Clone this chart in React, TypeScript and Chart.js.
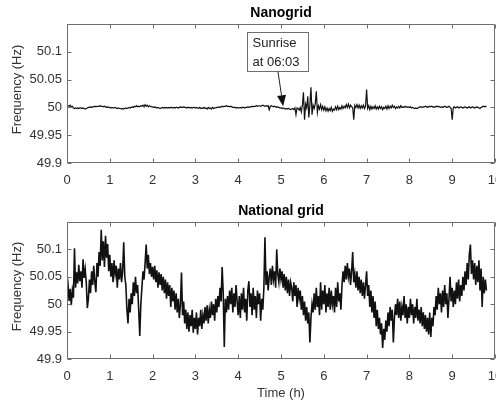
import React, { useEffect, useRef } from "react";
import { Chart, registerables } from "chart.js";

Chart.register(...registerables);

// ---------- data ----------
const TIME_STEP_H = 0.025; // sampling interval of both recordings (hours)

const xTickValues = [0, 1, 2, 3, 4, 5, 6, 7, 8, 9, 10];
const yTickValues = [49.9, 49.95, 50, 50.05, 50.1];
const yTickLabels = ["49.9", "49.95", "50", "50.05", "50.1"];

const panelTitles = ["Nanogrid", "National grid"];
const yAxisTitle = "Frequency (Hz)";
const xAxisTitle = "Time (h)";

const sunriseText = ["Sunrise", "at 06:03"];
const sunriseArrowTip = { x: 5.05, y: 50.002 };
const sunriseArrowTail = { x: 4.93, y: 50.064 };
const sunriseBox = { x0: 4.2, x1: 5.63, y0: 50.065, y1: 50.135 };

const nanogridFreq = [
  50.001, 50.003, 50.002, 50.004, 50.001, 50.002, 49.999, 49.998, 49.999, 49.998,
  49.999, 49.998, 49.999, 49.999, 49.998, 49.999, 49.998, 49.997, 49.998, 49.999,
  50.000, 50.000, 50.001, 50.000, 50.001, 50.001, 50.002, 50.001, 50.002, 50.002,
  50.002, 50.003, 50.002, 50.002, 50.001, 50.002, 50.001, 50.000, 50.001, 50.000,
  50.000, 49.999, 50.000, 49.999, 49.999, 50.000, 49.999, 49.998, 49.999, 49.998,
  49.998, 49.997, 49.998, 49.997, 49.998, 49.999, 49.998, 49.999, 50.000, 49.999,
  50.000, 50.001, 50.000, 50.002, 50.001, 50.003, 50.001, 50.002, 50.001, 50.003,
  50.002, 50.004, 50.001, 50.005, 50.002, 50.004, 50.001, 50.003, 50.002, 50.001,
  50.001, 50.000, 50.001, 50.000, 49.999, 50.000, 49.999, 49.998, 49.999, 50.000,
  49.999, 50.000, 49.999, 50.000, 49.999, 50.000, 49.999, 50.000, 50.000, 49.999,
  50.000, 49.999, 50.000, 50.000, 49.999, 50.000, 50.001, 50.000, 50.000, 50.001,
  50.000, 50.000, 49.999, 50.000, 50.000, 49.999, 50.000, 49.999, 50.000, 50.000,
  49.999, 50.000, 49.999, 49.998, 50.000, 49.998, 49.999, 49.998, 50.000, 49.998,
  49.999, 49.997, 50.000, 49.998, 49.999, 49.997, 50.000, 49.998, 49.999, 49.999,
  50.000, 50.000, 50.001, 50.000, 50.001, 50.002, 50.001, 50.002, 50.002, 50.003,
  50.002, 50.002, 50.001, 50.002, 50.001, 50.000, 50.000, 50.000, 49.999, 50.000,
  49.999, 49.999, 50.000, 49.999, 50.000, 50.000, 49.999, 50.000, 50.000, 50.001,
  50.000, 50.001, 50.001, 50.002, 50.001, 50.002, 50.002, 50.003, 50.002, 50.003,
  50.003, 50.002, 50.003, 50.004, 50.003, 50.002, 50.003, 50.002, 50.003, 49.996,
  50.002, 50.003, 50.002, 50.001, 50.002, 50.001, 50.000, 50.001, 50.000, 49.999,
  49.999, 49.998, 49.999, 49.998, 49.997, 49.998, 49.997, 49.998, 49.997, 49.996,
  49.997, 49.998, 49.996, 49.999, 49.987, 49.999, 49.998, 49.995, 50.000, 49.992,
  50.004, 50.027, 49.978, 50.006, 49.999, 50.020, 49.982, 50.005, 50.036, 49.987,
  50.004, 49.998, 50.006, 50.029, 49.991, 50.003, 49.997, 50.005, 49.996, 50.002,
  49.995, 50.001, 49.994, 49.999, 49.993, 49.998, 49.994, 50.000, 49.993, 49.997,
  49.995, 50.001, 49.996, 50.002, 49.996, 50.000, 49.997, 50.003, 49.998, 50.002,
  49.999, 50.005, 50.000, 50.006, 49.999, 50.004, 50.001, 50.000, 49.978, 50.004,
  50.000, 50.005, 49.999, 50.004, 49.998, 50.003, 49.999, 50.004, 49.998, 50.002,
  50.032, 49.998, 50.003, 49.996, 50.002, 49.997, 50.001, 49.998, 50.003, 49.997,
  50.001, 49.997, 50.002, 49.998, 50.001, 49.996, 50.000, 49.998, 50.002, 49.997,
  50.003, 49.998, 50.002, 49.999, 50.004, 50.000, 50.002, 49.998, 50.001, 49.999,
  50.002, 49.999, 50.003, 50.000, 50.001, 50.000, 50.002, 50.001, 50.000, 50.001,
  50.000, 50.001, 49.999, 50.000, 49.999, 49.998, 49.999, 49.998, 49.999, 50.000,
  50.001, 50.001, 50.000, 50.001, 50.001, 50.002, 50.001, 50.000, 50.001, 50.002,
  50.001, 50.002, 50.001, 50.000, 50.001, 50.002, 50.001, 50.002, 50.001, 50.000,
  50.001, 50.000, 50.001, 50.002, 50.001, 50.000, 50.001, 50.002, 50.000, 49.998,
  49.978, 50.000, 50.001, 49.999, 50.000, 50.001, 49.999, 50.000, 50.001, 50.000,
  49.999, 50.000, 50.001, 50.000, 49.999, 50.000, 50.001, 49.999, 50.000, 50.001,
  50.000, 49.999, 50.000, 50.001, 50.000, 49.999, 49.998, 50.000, 50.001, 50.002,
  50.001, 50.002, 50.001,
];

const nationalFreq = [
  50.020, 50.034, 50.006, 50.028, 49.998, 50.025, 50.012, 50.102, 50.030, 50.058,
  50.038, 50.072, 50.042, 50.060, 50.030, 50.082, 50.048, 50.064, 50.040, 49.993,
  50.010, 50.045, 50.020, 50.060, 50.035, 50.070, 50.040, 50.022, 50.075, 50.050,
  50.095, 50.070, 50.136, 50.080, 50.115, 50.068, 50.125, 50.085, 50.110, 50.060,
  50.090, 50.050, 50.075, 50.040, 50.080, 50.055, 50.070, 50.030, 50.065, 50.045,
  50.075, 50.040, 50.060, 50.113, 50.050, 50.035, 49.990, 49.965, 50.010, 49.985,
  50.020, 50.000, 50.040, 50.015, 50.050, 50.020, 50.035, 49.990, 49.942, 50.000,
  50.030, 50.060, 50.045, 50.075, 50.109, 50.065, 50.090, 50.055, 50.075, 50.050,
  50.068, 50.045, 50.070, 50.040, 50.062, 50.030, 50.058, 50.035, 50.055, 50.025,
  50.050, 50.020, 50.045, 50.010, 50.040, 50.015, 50.035, 49.995, 50.030, 50.005,
  50.025, 49.990, 50.020, 49.985, 50.010, 49.975, 50.000, 50.058, 49.980, 50.005,
  49.965, 49.990, 49.955, 49.985, 49.950, 49.980, 49.960, 49.990, 49.948, 49.975,
  49.955, 49.985, 49.945, 49.975, 49.960, 49.990, 49.955, 49.980, 49.965, 49.995,
  49.970, 49.998, 49.965, 49.990, 49.975, 50.005, 49.980, 50.000, 49.970, 50.010,
  49.985, 50.015, 49.995, 50.030, 50.005, 50.068, 50.020, 49.922, 50.010, 49.985,
  50.015, 49.990, 50.025, 50.000, 50.030, 49.985, 50.020, 49.995, 50.035, 50.005,
  49.980, 50.015, 49.975, 50.020, 49.990, 50.030, 49.985, 50.010, 49.970, 50.025,
  50.042, 49.995, 50.020, 49.980, 50.030, 49.990, 50.015, 49.975, 50.025, 50.000,
  50.020, 49.970, 50.010, 49.990, 50.030, 50.122, 50.035, 50.060, 50.025, 50.050,
  50.065, 50.035, 50.070, 50.045, 50.060, 50.030, 50.100, 50.055, 50.040, 50.065,
  50.045, 50.060, 50.030, 50.055, 50.025, 50.050, 50.020, 50.045, 50.015, 50.040,
  50.030, 50.005, 50.040, 50.015, 50.035, 49.995, 50.030, 50.010, 50.025, 49.990,
  50.015, 49.980, 50.005, 49.970, 49.995, 49.965, 49.985, 49.930, 49.975, 50.000,
  49.985, 50.020, 49.990, 50.030, 49.995, 50.015, 49.980, 50.040, 49.990, 50.025,
  50.000, 50.035, 49.985, 50.020, 49.995, 50.030, 49.990, 50.025, 50.000, 50.015,
  49.985, 50.030, 49.995, 50.040, 50.005, 50.020, 49.990, 50.035, 50.060, 50.040,
  50.070, 50.045, 50.075, 50.050, 50.065, 50.035, 50.060, 50.095, 50.040, 50.055,
  50.030, 50.060, 50.025, 50.050, 50.020, 50.045, 50.015, 50.040, 50.010, 50.035,
  50.060, 50.015, 50.035, 49.995, 50.025, 49.985, 50.015, 49.975, 50.005, 49.960,
  49.990, 49.955, 49.975, 49.945, 49.965, 49.920, 49.955, 49.935, 49.970, 49.950,
  49.985, 49.960, 49.995, 49.970, 49.990, 49.930, 49.975, 50.000, 49.980, 50.010,
  49.975, 50.005, 49.970, 49.995, 49.980, 50.015, 49.975, 50.000, 49.965, 49.995,
  49.975, 50.010, 49.980, 50.000, 49.965, 49.995, 49.975, 50.010, 49.970, 49.990,
  49.965, 49.995, 49.960, 49.985, 49.955, 49.980, 49.950, 49.975, 49.945, 49.985,
  49.940, 49.975, 49.960, 49.995, 49.980, 50.015, 49.990, 50.030, 50.000, 50.020,
  49.985, 50.025, 49.995, 50.035, 50.000, 50.020, 49.975, 50.010, 50.050, 50.005,
  50.030, 49.995, 50.025, 50.000, 50.040, 50.010, 50.045, 50.005, 50.035, 50.015,
  50.050, 50.025, 50.060, 50.035, 50.075, 50.045, 50.090, 50.109, 50.055, 50.080,
  50.045, 50.075, 50.035, 50.070, 50.040, 50.080, 50.025, 50.065, 49.995, 50.050,
  50.020, 50.045, 50.025,
];

// ---------- styling ----------
const FONT = '"Liberation Sans", Arial, Helvetica, sans-serif';
const AXIS_COLOR = "#6e6e6e";
const TEXT_COLOR = "#333333";
const LINE_COLOR = "#111111";
const CANVAS_W = 496;

type Annot = {
  text: string[];
  tip: { x: number; y: number };
  tail: { x: number; y: number };
  box: { x0: number; x1: number; y0: number; y1: number };
};

const matlabAxesPlugin = {
  id: "matlabAxes",
  afterDatasetsDraw(chart: any, _args: any, opts: any) {
    const { ctx, chartArea: a, scales } = chart;
    const xs = scales.x;
    const ys = scales.y;
    ctx.save();
    // box
    ctx.strokeStyle = AXIS_COLOR;
    ctx.lineWidth = 1;
    const L = Math.round(a.left) + 0.5;
    const R = Math.round(a.right) - 0.5;
    const T = Math.round(a.top) + 0.5;
    const B = Math.round(a.bottom) - 0.5;
    ctx.beginPath();
    ctx.rect(L, T, R - L, B - T);
    ctx.stroke();
    // inward ticks
    const tl = 4;
    ctx.beginPath();
    for (const v of xTickValues) {
      const px = Math.round(xs.getPixelForValue(v)) + 0.5;
      ctx.moveTo(px, B);
      ctx.lineTo(px, B - tl);
      ctx.moveTo(px, T);
      ctx.lineTo(px, T + tl);
    }
    for (const v of yTickValues) {
      const py = Math.round(ys.getPixelForValue(v)) + 0.5;
      ctx.moveTo(L, py);
      ctx.lineTo(L + tl, py);
      ctx.moveTo(R, py);
      ctx.lineTo(R - tl, py);
    }
    ctx.stroke();
    // title
    if (opts.title) {
      ctx.fillStyle = "#000";
      ctx.font = `bold 14px ${FONT}`;
      ctx.textAlign = "center";
      ctx.textBaseline = "middle";
      ctx.fillText(opts.title, (a.left + a.right) / 2, a.top - 10.5);
    }
    // y-axis label (MATLAB places it slightly above the axes centre)
    ctx.save();
    ctx.fillStyle = TEXT_COLOR;
    ctx.font = `13px ${FONT}`;
    ctx.textAlign = "center";
    ctx.textBaseline = "middle";
    ctx.translate(17, (a.top + a.bottom) / 2 - 4);
    ctx.rotate(-Math.PI / 2);
    ctx.fillText(yAxisTitle, 0, 0);
    ctx.restore();
    // annotation
    const an: Annot | undefined = opts.annotation;
    if (an) {
      const bx0 = Math.round(xs.getPixelForValue(an.box.x0)) + 0.5;
      const bx1 = Math.round(xs.getPixelForValue(an.box.x1)) + 0.5;
      const by0 = Math.round(ys.getPixelForValue(an.box.y1)) + 0.5;
      const by1 = Math.round(ys.getPixelForValue(an.box.y0)) + 0.5;
      ctx.fillStyle = "#fff";
      ctx.fillRect(bx0, by0, bx1 - bx0, by1 - by0);
      ctx.strokeStyle = AXIS_COLOR;
      ctx.lineWidth = 1;
      ctx.strokeRect(bx0, by0, bx1 - bx0, by1 - by0);
      ctx.fillStyle = "#222";
      ctx.font = `13px ${FONT}`;
      ctx.textAlign = "left";
      ctx.textBaseline = "middle";
      const lh = (by1 - by0) / an.text.length;
      an.text.forEach((t, i) => {
        ctx.fillText(t, bx0 + 5, by0 + lh * (i + 0.5) + 1);
      });
      // arrow
      const tx = xs.getPixelForValue(an.tail.x);
      const ty = ys.getPixelForValue(an.tail.y);
      const hx = xs.getPixelForValue(an.tip.x);
      const hy = ys.getPixelForValue(an.tip.y);
      const ang = Math.atan2(hy - ty, hx - tx);
      const headLen = 11;
      const headW = 4.5;
      const bxp = hx - headLen * Math.cos(ang);
      const byp = hy - headLen * Math.sin(ang);
      ctx.strokeStyle = "#222";
      ctx.beginPath();
      ctx.moveTo(tx, ty);
      ctx.lineTo(bxp, byp);
      ctx.stroke();
      ctx.fillStyle = "#111";
      ctx.beginPath();
      ctx.moveTo(hx, hy);
      ctx.lineTo(bxp + headW * Math.sin(ang), byp - headW * Math.cos(ang));
      ctx.lineTo(bxp - headW * Math.sin(ang), byp + headW * Math.cos(ang));
      ctx.closePath();
      ctx.fill();
    }
    ctx.restore();
  },
};

function makeConfig(
  values: number[],
  title: string,
  topPad: number,
  xAxisHeight: number,
  showXTitle: boolean,
  lineWidth: number,
  annotation?: Annot
): any {
  const points = values.map((v, i) => ({ x: i * TIME_STEP_H, y: v }));
  return {
    type: "line",
    data: {
      datasets: [
        {
          data: points,
          borderColor: LINE_COLOR,
          borderWidth: lineWidth,
          pointRadius: 0,
          tension: 0,
          fill: false,
        },
      ],
    },
    plugins: [matlabAxesPlugin],
    options: {
      animation: false,
      responsive: false,
      events: [],
      layout: { padding: { top: topPad, right: 1, left: 0, bottom: 0 } },
      plugins: {
        legend: { display: false },
        tooltip: { enabled: false },
        title: { display: false },
        matlabAxes: { title, annotation },
      },
      scales: {
        x: {
          type: "linear",
          min: 0,
          max: 10,
          grid: { display: false, drawTicks: false },
          border: { display: false },
          ticks: {
            autoSkip: false,
            maxRotation: 0,
            padding: 10,
            color: TEXT_COLOR,
            font: { family: FONT, size: 13 },
            callback: (v: number) => String(v),
          },
          afterBuildTicks: (s: any) => {
            s.ticks = xTickValues.map((v) => ({ value: v }));
          },
          afterFit: (s: any) => {
            s.height = xAxisHeight;
            s.paddingLeft = 0;
            s.paddingRight = 0;
          },
          title: {
            display: showXTitle,
            text: xAxisTitle,
            color: TEXT_COLOR,
            font: { family: FONT, size: 13 },
            padding: { top: 0, bottom: 0 },
          },
        },
        y: {
          type: "linear",
          min: 49.9,
          max: 50.15,
          grid: { display: false, drawTicks: false },
          border: { display: false },
          ticks: {
            padding: 5,
            color: TEXT_COLOR,
            font: { family: FONT, size: 13 },
            callback: (v: number) => {
              const i = yTickValues.indexOf(v);
              return i >= 0 ? yTickLabels[i] : "";
            },
          },
          afterBuildTicks: (s: any) => {
            s.ticks = yTickValues.map((v) => ({ value: v }));
          },
          afterFit: (s: any) => {
            s.width = 67;
            s.paddingTop = 0;
            s.paddingBottom = 0;
          },
          title: { display: false },
        },
      },
    },
  };
}

export default function App() {
  const ref1 = useRef<HTMLCanvasElement | null>(null);
  const ref2 = useRef<HTMLCanvasElement | null>(null);

  useEffect(() => {
    const c1 = new Chart(
      ref1.current as HTMLCanvasElement,
      makeConfig(nanogridFreq, panelTitles[0], 24, 33, false, 1.2, {
        text: sunriseText,
        tip: sunriseArrowTip,
        tail: sunriseArrowTail,
        box: sunriseBox,
      })
    );
    const c2 = new Chart(
      ref2.current as HTMLCanvasElement,
      makeConfig(nationalFreq, panelTitles[1], 26, 42, true, 1.6)
    );
    return () => {
      c1.destroy();
      c2.destroy();
    };
  }, []);

  return (
    <div
      style={{
        position: "fixed",
        left: 0,
        top: 0,
        width: CANVAS_W,
        height: 401,
        background: "#fff",
      }}
    >
      <canvas
        ref={ref1}
        width={CANVAS_W}
        height={196}
        style={{ position: "absolute", left: 0, top: 0 }}
      />
      <canvas
        ref={ref2}
        width={CANVAS_W}
        height={205}
        style={{ position: "absolute", left: 0, top: 196 }}
      />
    </div>
  );
}
